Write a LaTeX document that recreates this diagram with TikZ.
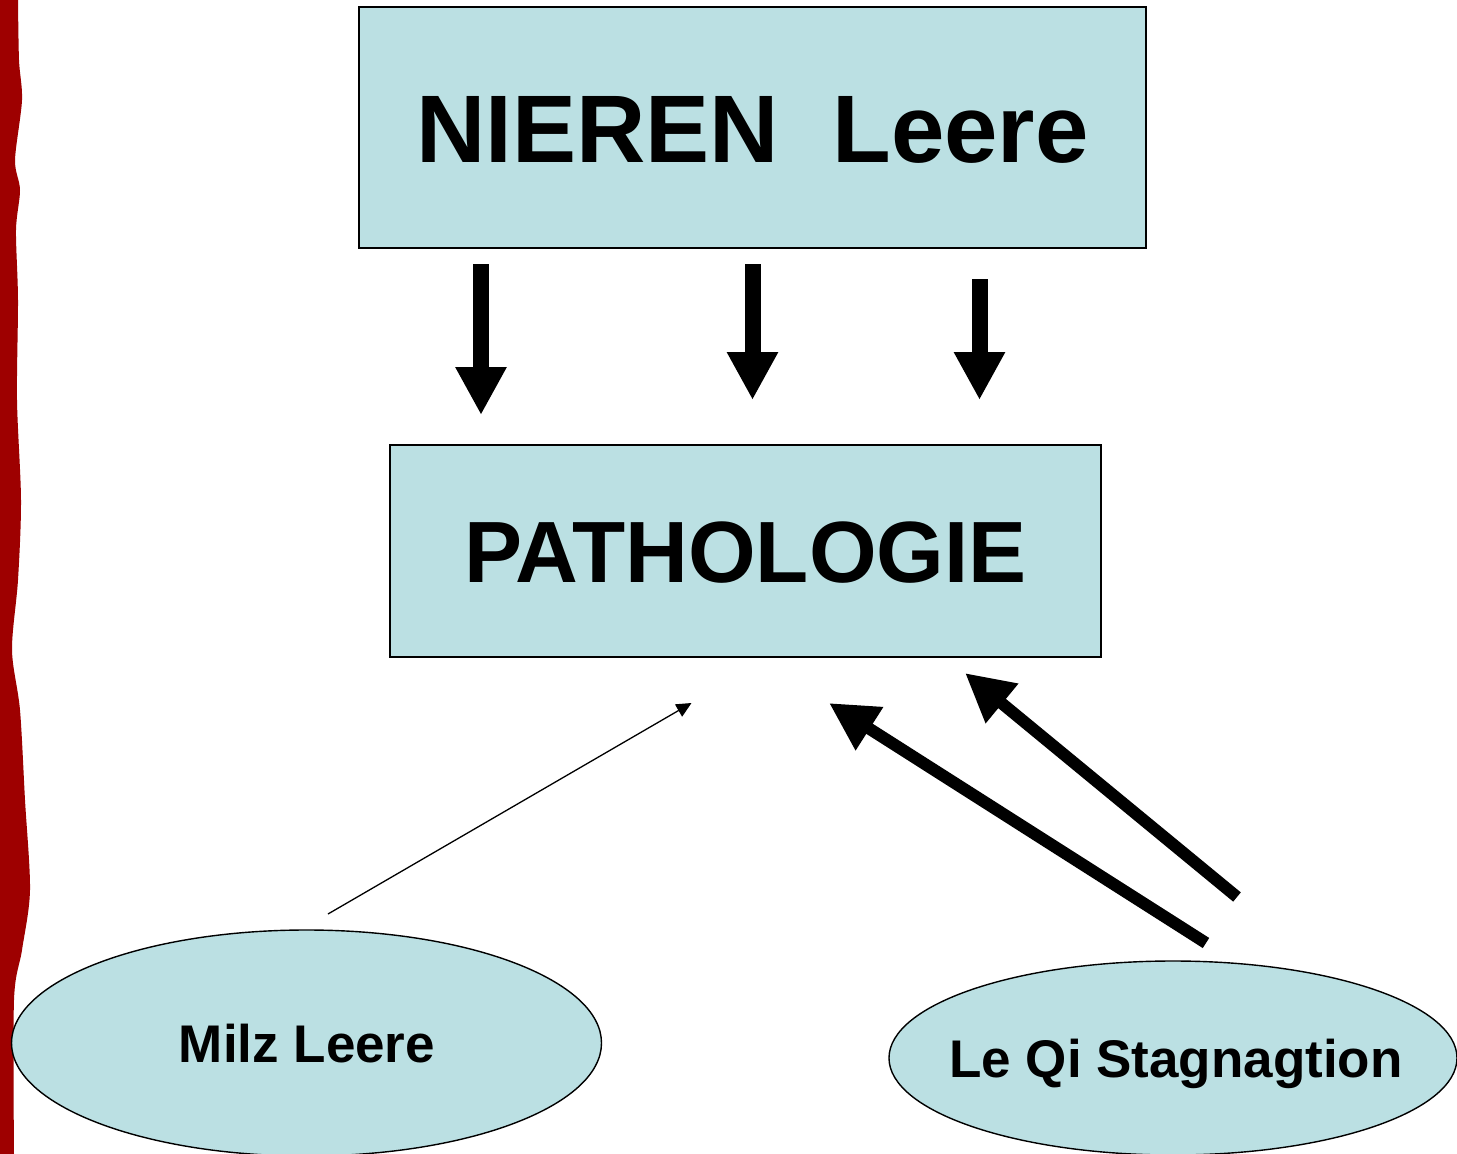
\documentclass[tikz,border=0pt]{standalone}
\usepackage{fontspec}
\setmainfont{Liberation Sans}
\usetikzlibrary{arrows.meta,shapes.geometric}
\definecolor{boxfill}{RGB}{187,224,227}
\definecolor{stripred}{RGB}{158,0,0}
\tikzset{
  box/.style={draw=black, line width=1.4pt, fill=boxfill, rectangle, inner sep=0pt},
  oval/.style={draw=black, line width=1.4pt, fill=boxfill, ellipse, inner sep=0pt},
  ovaltext/.style={font=\bfseries\fontsize{53}{60}\selectfont, text height=37pt, text depth=0pt, inner sep=0pt},
  downarrow/.style={line width=16pt, -{Triangle[length=48pt,width=48pt]}},
  thickarrow/.style={line width=12pt, -{Triangle[length=48pt,width=48pt]}},
  thinarrow/.style={line width=1.3pt, -{Triangle[length=15pt,width=14pt]}},
}
\begin{document}
\begin{tikzpicture}[x=1pt,y=-1pt]
\useasboundingbox (0,0) rectangle (1457,1154);
\fill[white] (0,0) rectangle (1457,1154);
% red wavy strip at left
\fill[stripred] (0,0) -- plot[smooth] coordinates {(18,0) (19,60) (22,100) (15,160) (20,190) (16,230) (18,300) (17,400) (21,500) (18,580) (12,650) (20,710) (25,800) (30,890) (22,950) (14,1000) (14,1154)} -- (0,1154) -- cycle;

\node[box, minimum width=787pt, minimum height=241pt, font=\bfseries\fontsize{96}{110}\selectfont, text height=69pt, text depth=0pt] (nieren) at (752.5,127.5) {NIEREN\ \ Leere};
\node[box, minimum width=711pt, minimum height=212pt, font=\bfseries\fontsize{87}{100}\selectfont, text height=62pt, text depth=0pt] (patho) at (745.5,551) {PATHOLOGIE};
\node[oval, minimum width=590pt, minimum height=226pt] (milz) at (306.5,1043) {};
\node[ovaltext] (milztext) at (307,1044) {Milz Leere};
\node[oval, minimum width=568pt, minimum height=194pt] (qi) at (1173,1058) {};
\node[ovaltext] (qitext) at (1176,1059) {Le Qi Stagnagtion};

% down arrows
\coordinate (d1s) at (481,264); \coordinate (d1e) at (481,415);
\coordinate (d2s) at (752.5,264); \coordinate (d2e) at (752.5,400);
\coordinate (d3s) at (979.5,279); \coordinate (d3e) at (979.5,400);
\draw[downarrow] (d1s) -- (d1e);
\draw[downarrow] (d2s) -- (d2e);
\draw[downarrow] (d3s) -- (d3e);

% arrows towards pathologie
\coordinate (m1) at (328,914); \coordinate (m2) at (691.5,703);
\draw[thinarrow] (m1) -- (m2);
\coordinate (q1s) at (1206,943); \coordinate (q1e) at (829,703);
\draw[thickarrow] (q1s) -- (q1e);
\coordinate (q2s) at (1237,897); \coordinate (q2e) at (965,673);
\draw[thickarrow] (q2s) -- (q2e);
\end{tikzpicture}
\end{document}
